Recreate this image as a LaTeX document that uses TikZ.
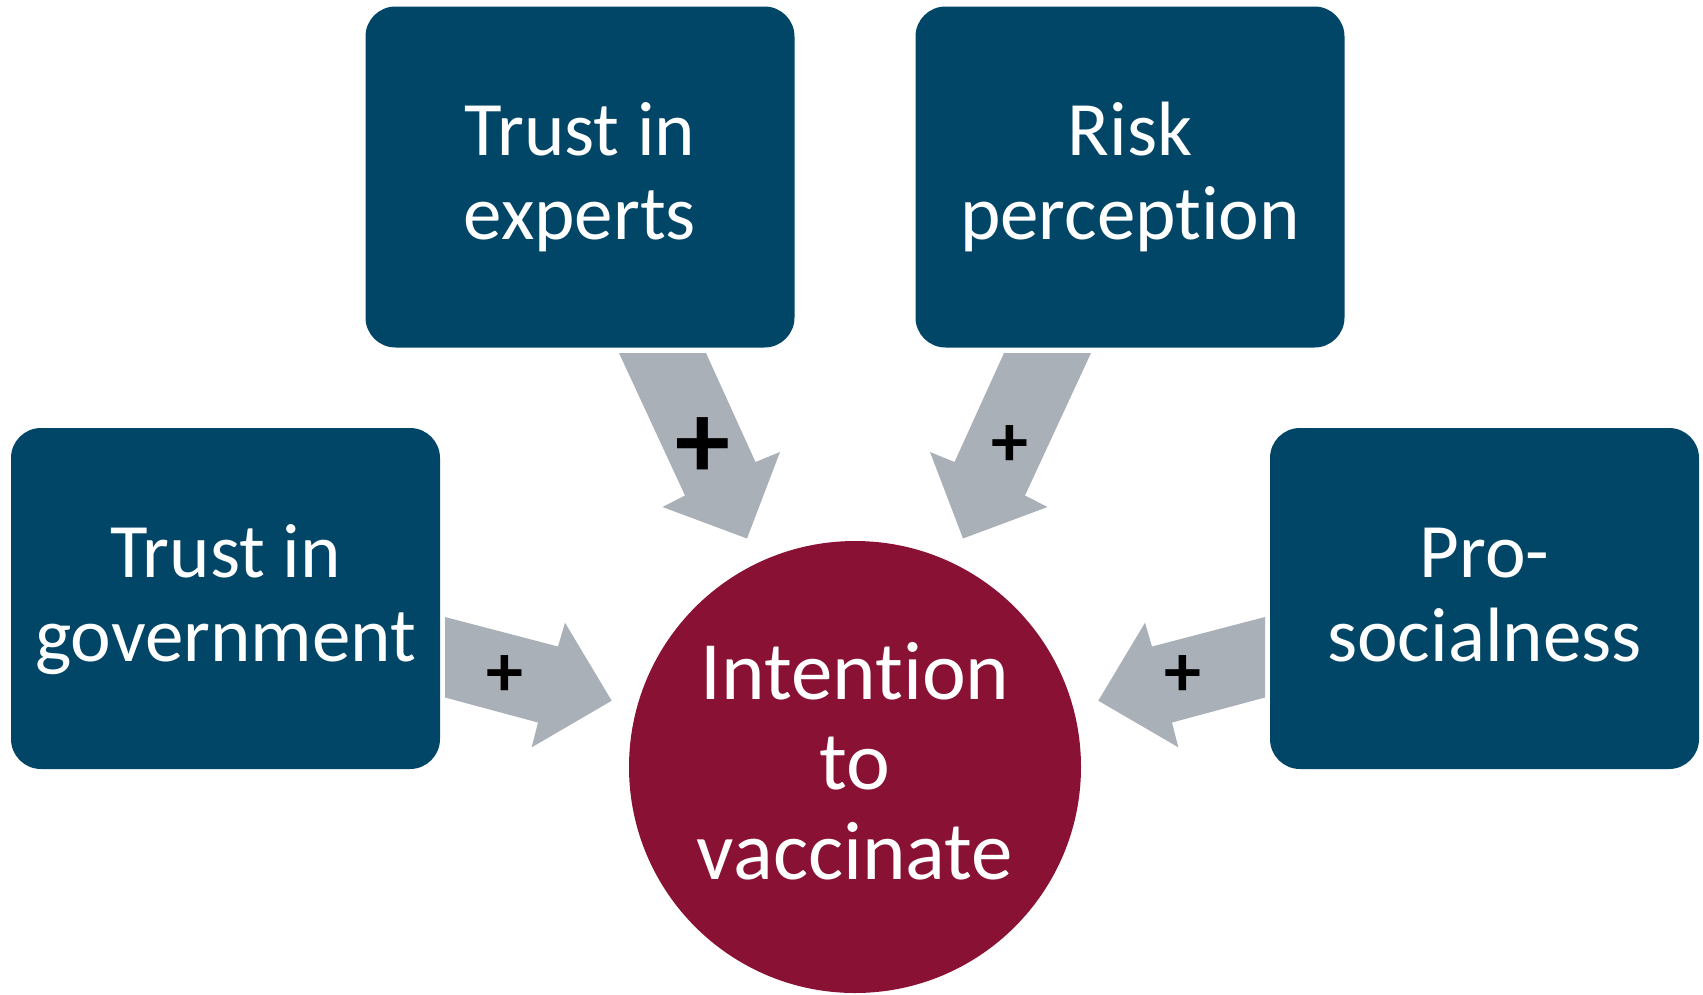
\documentclass[tikz,border=0pt]{standalone}
\usepackage{fontspec}
\setmainfont{Carlito}[Ligatures={NoCommon}]
\definecolor{boxblue}{RGB}{2,70,103}
\definecolor{circred}{RGB}{137,17,52}
\definecolor{arrowgray}{RGB}{170,176,184}
\begin{document}
\begin{tikzpicture}[x=1pt,y=-1pt,
  factor/.style={fill=boxblue, rounded corners=30pt, minimum width=429pt, minimum height=341pt, inner sep=0pt, draw=none},
  outcome/.style={circle, fill=circred, minimum size=452pt, inner sep=0pt, draw=none},
  boxtext/.style={text=white, align=center, inner sep=0pt, font=\fontsize{77}{84}\selectfont},
  circtext/.style={text=white, align=center, inner sep=0pt, font=\fontsize{83}{90}\selectfont},
  blockarrow/.style={fill=arrowgray, draw=none},
  bigplus/.style={inner sep=0pt, font=\fontsize{110}{110}\selectfont\bfseries},
  smallplus/.style={inner sep=0pt, font=\fontsize{74}{74}\selectfont\bfseries}]
\useasboundingbox (0,0) rectangle (1703,994);

% boxes
\node[factor] (gov) at (225.5,598.5) {};
\node[factor] (exp) at (580,177) {};
\node[factor] (risk) at (1130,177) {};
\node[factor] (pro) at (1484.5,598.5) {};
\node[outcome] (int) at (855,767) {};

% texts
\node[boxtext, yshift=-4pt] (govt) at (gov.center) {\strut Trust in\\\strut government};
\node[boxtext, yshift=-4pt] (expt) at (exp.center) {\strut Trust in\\\strut experts};
\node[boxtext, yshift=-4pt] (riskt) at (risk.center) {\strut Risk\\\strut perception};
\node[boxtext, yshift=-4pt] (prot) at (pro.center) {\strut Pro-\\\strut socialness};
\node[circtext, yshift=-4pt] (intt) at (int.center) {\strut Intention\\\strut to\\\strut vaccinate};

% block arrows
\fill[blockarrow] (619,353) -- (706,353) -- (755.5,462) -- (780,452) -- (747,538.5) -- (662.5,507) -- (685,495.5) -- cycle;
\fill[blockarrow] (1091,353) -- (1004,353) -- (954.5,462) -- (930,452) -- (963,538.5) -- (1047.5,507) -- (1025,495.5) -- cycle;
\fill[blockarrow] (445,617) -- (558,646.5) -- (565,622.7) -- (611.7,700.7) -- (531.7,747.3) -- (538,722.5) -- (445,697.5) -- cycle;
\fill[blockarrow] (1265,617) -- (1152,646.5) -- (1145,622.7) -- (1098.3,700.7) -- (1178.3,747.3) -- (1172,722.5) -- (1265,697.5) -- cycle;

% signs
\node[bigplus] (p1) at (703,448) {+};
\node[smallplus] (p2) at (1010,446) {+};
\node[smallplus] (p3) at (505,676) {+};
\node[smallplus] (p4) at (1183,676) {+};
\end{tikzpicture}
\end{document}
